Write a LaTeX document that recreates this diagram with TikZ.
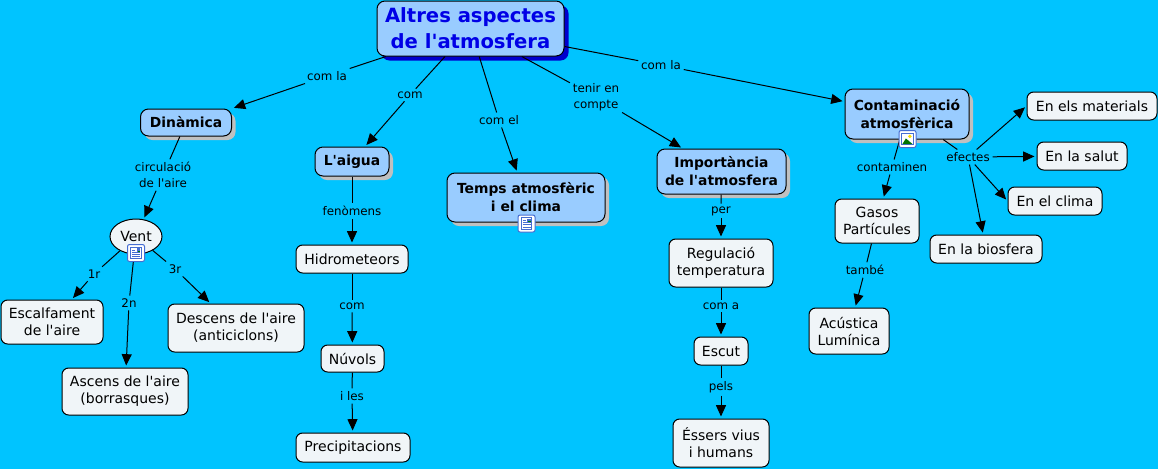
\documentclass[tikz,border=0pt]{standalone}
\usepackage{fontspec}
\setmainfont{DejaVu Sans}[Ligatures=TeXOff]
\usetikzlibrary{arrows.meta,shadows,shapes.geometric}
\definecolor{skybg}{RGB}{0,196,255}
\definecolor{conceptfill}{RGB}{153,204,255}
\definecolor{leaffill}{RGB}{240,245,248}
\definecolor{shadowgray}{RGB}{192,192,192}
\definecolor{rootblue}{RGB}{0,0,230}
\definecolor{rootshadow}{RGB}{0,0,205}
\definecolor{iconblue}{RGB}{70,110,210}
\tikzset{
	wh/.style 2 args={minimum width=#1*0.75pt,minimum height=#2*0.75pt},
	leaf/.style={draw=black,line width=0.75pt,fill=leaffill,rounded corners=5pt,align=center,inner sep=0pt,
		font=\fontsize{10.5}{12.75}\selectfont},
	concept/.style={leaf,fill=conceptfill,rounded corners=6pt,font=\fontsize{10.4}{13.5}\selectfont\bfseries,
		general shadow={shadow xshift=3pt,shadow yshift=-3pt,fill=shadowgray}},
	rootnode/.style={leaf,fill=conceptfill,rounded corners=6pt,text=rootblue,font=\fontsize{14.7}{19.5}\selectfont\bfseries,
		general shadow={shadow xshift=3.4pt,shadow yshift=-3.4pt,fill=rootshadow}},
	lbl/.style={align=center,inner sep=2pt,yshift=-0.75pt,font=\fontsize{8.9}{12}\selectfont},
	conn/.style={line width=0.75pt},
	arr/.style={conn,shorten >=1.5pt,-{Triangle[length=8.5pt,width=7.5pt]}},
	iconbase/.style={draw=iconblue,line width=0.75pt,fill=white,rounded corners=1.5pt,inner sep=0pt,minimum size=12.75pt},
	noteicon/.style={iconbase,path picture={
		\begin{scope}[shift={(path picture bounding box.center)},sharp corners]
			\draw[line width=0.7pt,fill=white] (-4pt,4.4pt) rectangle (4pt,-4.4pt);
			\fill[iconblue] (0.6pt,3.6pt) rectangle (3.2pt,1pt);
			\fill[green!50!black] (1.4pt,1pt) rectangle (3.2pt,1.8pt);
			\foreach \ly in {0.6,-1,-2.6}
				\draw[line width=0.6pt] (-3pt,\ly pt) -- (3pt,\ly pt);
			\draw[line width=0.6pt] (-3pt,2.2pt) -- (-0.4pt,2.2pt);
		\end{scope}
	}},
	imgicon/.style={iconbase,path picture={
		\begin{scope}[shift={(path picture bounding box.center)},sharp corners]
			\draw[line width=0.7pt,fill=white] (-4.4pt,4.4pt) rectangle (4.4pt,-4.4pt);
			\fill[yellow!80!orange] (1.8pt,2pt) circle (1.4pt);
			\fill[green!45!black] (-3.9pt,-3.9pt) -- (-1.2pt,0.4pt) -- (3.9pt,-3.9pt) -- cycle;
		\end{scope}
	}},
}
\begin{document}
\begin{tikzpicture}[x=0.75pt,y=-0.75pt]
	\useasboundingbox[fill=skybg] (0,0) rectangle (1158,469);
	% concepts
	\node[rootnode,wh={187}{55}] (root) at (470.5,28.5) {Altres aspectes\\de l'atmosfera};
	\node[concept,wh={91}{27}] (dinamica) at (186,122.5) {Dinàmica};
	\node[concept,wh={74}{29}] (aigua) at (352,161.5) {L'aigua};
	\node[concept,wh={158}{49}] (temps) at (526,197.5) {Temps atmosfèric\\i el clima};
	\node[concept,wh={129}{45}] (importancia) at (721.5,171.5) {Importància\\de l'atmosfera};
	\node[concept,wh={124}{50}] (contaminacio) at (907,114) {Contaminació\\atmosfèrica};
	% leaves
	\node[leaf,ellipse,wh={52}{35}] (vent) at (136,236.5) {Vent};
	\node[leaf,wh={102}{44}] (escalfament) at (52,322) {Escalfament\\de l'aire};
	\node[leaf,wh={126}{47}] (ascens) at (125,391.5) {Ascens de l'aire\\(borrasques)};
	\node[leaf,wh={136}{48}] (descens) at (236,328) {Descens de l'aire\\(anticiclons)};
	\node[leaf,wh={112}{28}] (hidro) at (352,259) {Hidrometeors};
	\node[leaf,wh={63}{27}] (nuvols) at (352.5,358.5) {Núvols};
	\node[leaf,wh={114}{29}] (precip) at (353,447.5) {Precipitacions};
	\node[leaf,wh={104}{48}] (regulacio) at (721,263) {Regulació\\temperatura};
	\node[leaf,wh={54}{28}] (escut) at (721,351) {Escut};
	\node[leaf,wh={96}{48}] (essers) at (721,443) {Éssers vius\\i humans};
	\node[leaf,wh={84}{44}] (gasos) at (877,221) {Gasos\\Partícules};
	\node[leaf,wh={80}{46}] (acustica) at (849,331) {Acústica\\Lumínica};
	\node[leaf,wh={130}{28}] (materials) at (1092,106) {En els materials};
	\node[leaf,wh={90}{28}] (salut) at (1082,156) {En la salut};
	\node[leaf,wh={94}{28}] (clima) at (1055,201) {En el clima};
	\node[leaf,wh={112}{28}] (biosfera) at (986,249) {En la biosfera};
	% link labels
	\node[lbl] (lcomla) at (327,75) {com la};
	\node[lbl] (lcom) at (410,94) {com};
	\node[lbl] (lcomel) at (499,119) {com el};
	\node[lbl] (ltenir) at (596,96) {tenir en\\compte};
	\node[lbl] (lcomlab) at (661,64) {com la};
	\node[lbl] (lcirc) at (163,174) {circulació\\de l'aire};
	\node[lbl] (lpri) at (94,273) {1r};
	\node[lbl] (lseg) at (129,302) {2n};
	\node[lbl] (lter) at (175,268) {3r};
	\node[lbl] (lfeno) at (352,210) {fenòmens};
	\node[lbl] (lcomb) at (352,305) {com};
	\node[lbl] (liles) at (352,395) {i les};
	\node[lbl] (lper) at (721,210) {per};
	\node[lbl] (lcoma) at (721,305) {com a};
	\node[lbl] (lpels) at (721,386) {pels};
	\node[lbl] (lconta) at (892,166) {contaminen};
	\node[lbl] (ltambe) at (865,269) {també};
	\node[lbl] (lefec) at (968,156) {efectes};
	% connectors
	\foreach \from/\via/\to in {root/lcomla/dinamica.north east,root/lcom/aigua,root/lcomel/temps,root/ltenir/importancia,
		root/lcomlab/contaminacio,dinamica/lcirc/vent,vent/lpri/escalfament,vent/lseg/ascens,vent/lter/descens,
		aigua/lfeno/hidro,hidro/lcomb/nuvols,nuvols/liles/precip,importancia/lper/regulacio,regulacio/lcoma/escut,
		escut/lpels/essers,contaminacio/lconta/gasos,gasos/ltambe/acustica}
	{
		\draw[conn] (\from) -- (\via);
		\draw[arr] (\via) -- (\to);
	}
	\draw[conn] (contaminacio) -- (lefec);
	\draw[arr] (lefec) -- (materials.west);
	\draw[arr] (lefec) -- (salut);
	\draw[arr] (lefec) -- (clima.west);
	\draw[arr] (lefec) -- (biosfera);
	% icons
	\node[noteicon] (venticon) at (136,253) {};
	\node[noteicon] (tempsicon) at (526.5,223.5) {};
	\node[imgicon] (contaicon) at (907.5,139) {};
\end{tikzpicture}
\end{document}
